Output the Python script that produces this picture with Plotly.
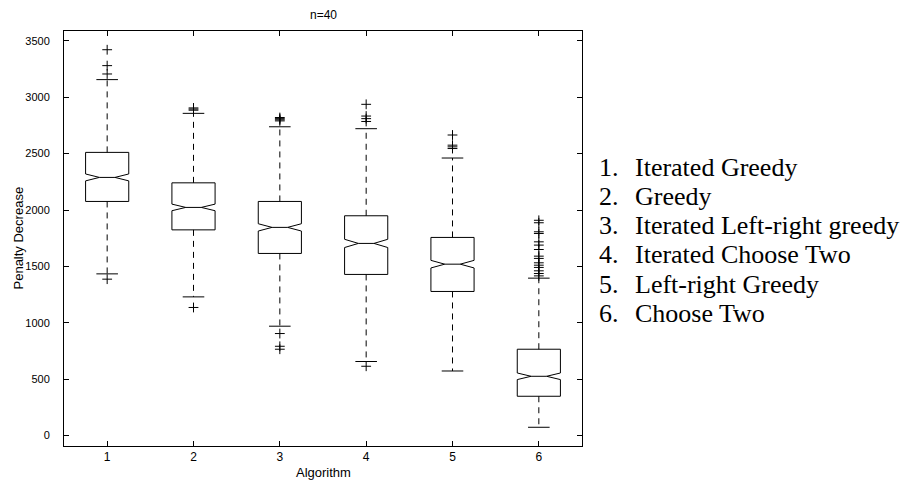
import plotly.graph_objects as go

# ---- data ----
algorithms = [1, 2, 3, 4, 5, 6]
q1 = [2076, 1824, 1615, 1429, 1278, 349]
median = [2289, 2023, 1846, 1704, 1520, 526]
q3 = [2511, 2241, 2076, 1949, 1757, 766]
upper_whisker = [3156, 2857, 2738, 2721, 2461, 1396]
lower_whisker = [1434, 1230, 970, 657, 573, 74]
n_samples = 500  # estimated sample size (sets notch span)

outliers = {
    1: [3421, 3280, 3206, 1387],
    2: [2905, 2895, 2885, 1136],
    3: [2820, 2810, 2800, 2790, 905, 792, 766],
    4: [2937, 2833, 2810, 2785, 615],
    5: [2665, 2575, 2560, 2545],
    6: [1909, 1887, 1807, 1792, 1718, 1689, 1650, 1591, 1571, 1532,
        1511, 1491, 1461, 1437, 1416],
}

legend_names = ["Iterated Greedy", "Greedy", "Iterated Left-right greedy",
                "Iterated Choose Two", "Left-right Greedy", "Choose Two"]

title_text = "n=40"
x_title = "Algorithm"
y_title = "Penalty Decrease"
y_ticks = [0, 500, 1000, 1500, 2000, 2500, 3000, 3500]

# ---- figure ----
BOX_W = 0.5
CAP_W = 0.25
notchspan = [1.57 * (b - a) / n_samples ** 0.5 for a, b in zip(q1, q3)]

fig = go.Figure()

# dashed whiskers
wx, wy = [], []
for i, p in enumerate(algorithms):
    wx += [p, p, None, p, p, None]
    wy += [q3[i], upper_whisker[i], None, q1[i], lower_whisker[i], None]
fig.add_trace(go.Scatter(x=wx, y=wy, mode="lines",
                         line=dict(color="black", width=1, dash="6px,5px"),
                         hoverinfo="skip", showlegend=False))

# whisker caps
cx, cy = [], []
for i, p in enumerate(algorithms):
    for v in (upper_whisker[i], lower_whisker[i]):
        cx += [p - CAP_W / 2, p + CAP_W / 2, None]
        cy += [v, v, None]
fig.add_trace(go.Scatter(x=cx, y=cy, mode="lines",
                         line=dict(color="black", width=1),
                         hoverinfo="skip", showlegend=False))

# notched boxes
fig.add_trace(go.Box(x=algorithms, q1=q1, median=median, q3=q3,
                     lowerfence=q1, upperfence=q3, notchspan=notchspan,
                     notched=True, notchwidth=0.32, width=BOX_W,
                     whiskerwidth=0, fillcolor="rgba(0,0,0,0)",
                     line=dict(color="black", width=1),
                     boxpoints=False, showlegend=False))

# outliers
ox, oy = [], []
for p in algorithms:
    for v in outliers[p]:
        ox.append(p)
        oy.append(v)
fig.add_trace(go.Scatter(x=ox, y=oy, mode="markers",
                         marker=dict(symbol="cross-thin", size=7,
                                     line=dict(color="black", width=1)),
                         showlegend=False))

# ---- layout ----
L, R, T, B = 64, 327, 31, 39
W, H = 909, 485
pw, ph = W - L - R, H - T - B

def px_to_paper_x(px):
    return (px - L) / pw

def px_to_paper_y(py):
    return (H - B - py) / ph

sans = "Liberation Sans, Arial, Helvetica, sans-serif"
serif = "Liberation Serif, Times New Roman, serif"

annotations = [
    dict(text=x_title, x=0.5, y=px_to_paper_y(472), xref="paper", yref="paper",
         xanchor="center", yanchor="middle", showarrow=False,
         font=dict(family=sans, size=13, color="black")),
    dict(text=y_title, x=px_to_paper_x(18), y=0.5, xref="paper", yref="paper",
         xanchor="center", yanchor="middle", textangle=-90, showarrow=False,
         font=dict(family=sans, size=13, color="black")),
    dict(text=title_text, x=0.5, y=px_to_paper_y(15), xref="paper", yref="paper",
         xanchor="center", yanchor="middle", showarrow=False,
         font=dict(family=sans, size=12, color="black")),
]
for i, name in enumerate(legend_names):
    yc = px_to_paper_y(167 + i * 29.3)
    annotations.append(dict(text=f"{i + 1}.", x=px_to_paper_x(597), y=yc,
                            xref="paper", yref="paper", xanchor="left",
                            yanchor="middle", showarrow=False,
                            font=dict(family=serif, size=26, color="black")))
    annotations.append(dict(text=name, x=px_to_paper_x(633), y=yc,
                            xref="paper", yref="paper", xanchor="left",
                            yanchor="middle", showarrow=False,
                            font=dict(family=serif, size=26, color="black")))

fig.update_layout(
    width=W, height=H,
    margin=dict(l=L, r=R, t=T, b=B),
    paper_bgcolor="white", plot_bgcolor="white",
    showlegend=False,
    annotations=annotations,
    xaxis=dict(range=[0.5, 6.5], tickmode="array", tickvals=algorithms,
               ticktext=[str(a) for a in algorithms],
               ticks="inside", ticklen=5, tickcolor="black",
               showline=True, linecolor="black", linewidth=1, mirror="ticks",
               showgrid=False, zeroline=False,
               tickfont=dict(family=sans, size=12, color="black")),
    yaxis=dict(range=[-92, 3587], tickmode="array", tickvals=y_ticks,
               ticks="inside", ticklen=5, tickcolor="black",
               showline=True, linecolor="black", linewidth=1, mirror="ticks",
               showgrid=False, zeroline=False, ticklabelstandoff=11,
               tickfont=dict(family=sans, size=11, color="black")),
)

fig.write_html("out.html",
               config={"displayModeBar": False},
               post_script="document.body.style.margin='0';"
                           "document.body.style.overflow='hidden';")
